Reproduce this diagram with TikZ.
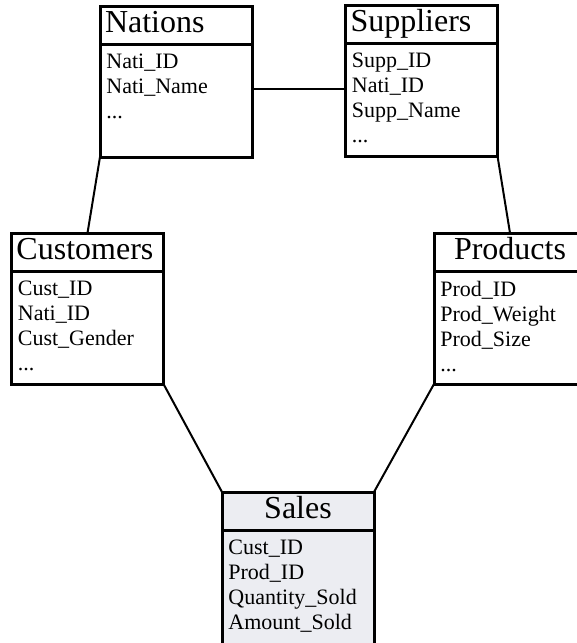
\documentclass[tikz,border=0pt]{standalone}
\usepackage{fontspec}
\setmainfont{Liberation Serif}
\usepackage{tikz}
\usetikzlibrary{positioning}
\definecolor{factfill}{RGB}{236, 237, 242}

\tikzset{
  tablehead/.style={draw, line width=1.5pt, outer sep=0pt,
                    inner xsep=2.5pt, inner ysep=0pt,
                    minimum width=76pt, minimum height=19pt,
                    text width=71pt, align=center,
                    text height=10.5pt, text depth=3pt,
                    font=\fontsize{16}{16}\selectfont},
  lefttitle/.style={align=left},
  tablebody/.style={draw, line width=1.5pt, outer sep=0pt, inner sep=0pt,
                    minimum width=76pt, minimum height=56.5pt},
  fields/.style={anchor=north west, align=left, inner sep=0pt,
                 font=\fontsize{11}{12.5}\selectfont},
  link/.style={line width=1pt}
}

\begin{document}
\begin{tikzpicture}[x=0.5pt, y=-0.5pt]
  \clip (0,0) rectangle (577,643);

  % dimension tables
  \node[tablehead, lefttitle] (nationshead) at (176, 25) {Nations};
  \node[tablebody, below=0pt of nationshead] (nationsbody) {};
  \node[fields] (nationsfields) at ([xshift=3pt, yshift=-5pt]nationsbody.north west)
       {Nati\_ID\\Nati\_Name\\...};

  \node[tablehead, lefttitle] (suppliershead) at (421.5, 24) {Suppliers};
  \node[tablebody, below=0pt of suppliershead] (suppliersbody) {};
  \node[fields] (suppliersfields) at ([xshift=3pt, yshift=-5pt]suppliersbody.north west)
       {Supp\_ID\\Nati\_ID\\Supp\_Name\\...};

  \node[tablehead, lefttitle] (customershead) at (87.5, 252) {Customers};
  \node[tablebody, below=0pt of customershead] (customersbody) {};
  \node[fields] (customersfields) at ([xshift=3pt, yshift=-5pt]customersbody.north west)
       {Cust\_ID\\Nati\_ID\\Cust\_Gender\\...};

  \node[tablehead] (productshead) at (510, 252) {Products};
  \node[tablebody, below=0pt of productshead] (productsbody) {};
  \node[fields] (productsfields) at ([xshift=3pt, yshift=-5pt]productsbody.north west)
       {Prod\_ID\\Prod\_Weight\\Prod\_Size\\...};

  % fact table
  \node[tablehead, fill=factfill] (saleshead) at (298, 511) {Sales};
  \node[tablebody, fill=factfill, minimum height=70pt,
        below=0pt of saleshead] (salesbody) {};
  \node[fields] (salesfields) at ([xshift=3pt, yshift=-5pt]salesbody.north west)
       {Cust\_ID\\Prod\_ID\\Quantity\_Sold\\Amount\_Sold};

  % links
  \draw[link] ([yshift=6pt]nationsbody.east) -- ([yshift=6pt]nationsbody.east -| suppliersbody.west);
  \draw[link] (nationsbody.south west) -- (customershead.north);
  \draw[link] (suppliersbody.south east) -- (productshead.north);
  \draw[link] (customersbody.south east) -- (saleshead.north west);
  \draw[link] (productsbody.south west) -- (saleshead.north east);
\end{tikzpicture}
\end{document}
